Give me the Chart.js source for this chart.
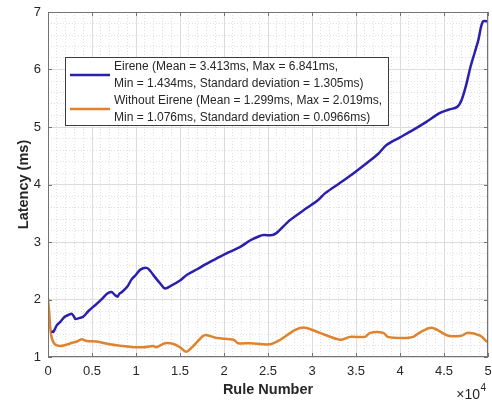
<!DOCTYPE html>
<html lang="en">
<head>
<meta charset="UTF-8">
<title>Latency vs Rule Number</title>
<script src="https://cdn.jsdelivr.net/npm/chart.js@4.4.1/dist/chart.umd.min.js"></script>
<style>
  html, body { margin: 0; padding: 0; background: #fff; }
</style>
</head>
<body>
<canvas id="latChart" width="492" height="402"></canvas>
<script>
    // values (x in rules, y in ms)
    const eireneX = [400, 600, 1000, 1400, 1900, 2300, 2700, 3000, 3100, 3600, 4000, 4600, 5500, 6200, 6700, 7200, 7600, 7900, 8100, 8400,
        9000, 9500, 10000, 10500, 11200, 11600, 12200, 12800, 13300, 14000, 15000, 15800, 17000, 18000, 19500, 20500, 21800, 23000,
        24000, 24500, 25500, 26000, 27500, 29400, 30700, 31500, 33200, 34500, 36200, 37500, 38500, 40000, 41500, 43000, 44500,
        45500, 46500, 47000, 47500, 48000, 48500, 48900, 49400, 50000];
    const eireneY = [1.45, 1.434, 1.55, 1.61, 1.70, 1.73, 1.75, 1.69, 1.66, 1.68, 1.70, 1.80, 1.92, 2.02, 2.10, 2.13, 2.08, 2.05, 2.10, 2.13,
        2.22, 2.35, 2.43, 2.52, 2.55, 2.50, 2.38, 2.27, 2.19, 2.24, 2.33, 2.43, 2.53, 2.62, 2.74, 2.82, 2.91, 3.03,
        3.10, 3.12, 3.12, 3.16, 3.38, 3.59, 3.73, 3.85, 4.03, 4.17, 4.37, 4.53, 4.69, 4.82, 4.95, 5.09, 5.24,
        5.30, 5.35, 5.47, 5.72, 6.04, 6.30, 6.51, 6.83, 6.84];

    const withoutX = [0, 150, 250, 400, 600, 900, 1400, 2000, 2600, 3300, 3800, 4400, 5500, 7000, 8500, 9700, 10800, 12000, 12300,
        13300, 14200, 15000, 15700, 16300, 17000, 17800, 19200, 21100, 21600, 23000, 25200, 26400, 28100, 29200, 30900,
        33200, 34300, 36000, 36600, 38100, 38600, 40300, 41500, 42300, 43600, 45500, 47000, 47700, 49100, 49900];
    const withoutY = [2.02, 1.75, 1.52, 1.35, 1.26, 1.21, 1.19, 1.21, 1.24, 1.27, 1.31, 1.28, 1.27, 1.22, 1.19, 1.17, 1.17, 1.19, 1.17,
        1.24, 1.23, 1.17, 1.09, 1.16, 1.27, 1.38, 1.33, 1.30, 1.24, 1.24, 1.22, 1.30, 1.47, 1.51, 1.42,
        1.30, 1.35, 1.35, 1.42, 1.42, 1.35, 1.33, 1.35, 1.43, 1.51, 1.37, 1.37, 1.42, 1.37, 1.26];

    const labels = [
        'Eirene (Mean = 3.413ms, Max = 6.841ms,\nMin = 1.434ms, Standard deviation = 1.305ms)',
        'Without Eirene (Mean = 1.299ms, Max = 2.019ms,\nMin = 1.076ms, Standard deviation = 0.0966ms)'
    ];
    const colors = ['#2a1fae', '#e0832f'];

    const FONT = "'Liberation Sans', Arial, sans-serif";
    const TEXT = '#262626';

    const toPoints = (xs, ys) => xs.map((x, i) => ({x, y: ys[i]}));
    const isMajorX = v => v % 5000 === 0;
    const isMajorY = v => Math.abs(v - Math.round(v)) < 1e-6;

    // box, inward ticks, legend and the x10^4 exponent
    const matlabLook = {
        id: 'matlabLook',
        afterDatasetsDraw(chart) {
            const {ctx, chartArea: a, scales: {x, y}} = chart;
            ctx.save();
            ctx.strokeStyle = '#737373';
            ctx.lineWidth = 1;
            ctx.strokeRect(a.left + 0.5, a.top + 0.5, a.right - a.left - 1, a.bottom - a.top - 1);
            ctx.beginPath();
            x.ticks.filter(t => isMajorX(t.value)).forEach(t => {
                const px = Math.round(x.getPixelForValue(t.value)) + 0.5;
                ctx.moveTo(px, a.bottom); ctx.lineTo(px, a.bottom - 4);
                ctx.moveTo(px, a.top); ctx.lineTo(px, a.top + 4);
            });
            y.ticks.filter(t => isMajorY(t.value)).forEach(t => {
                const py = Math.round(y.getPixelForValue(t.value)) + 0.5;
                ctx.moveTo(a.left, py); ctx.lineTo(a.left + 4, py);
                ctx.moveTo(a.right, py); ctx.lineTo(a.right - 4, py);
            });
            ctx.stroke();
            ctx.restore();
        },
        afterDraw(chart) {
            const {ctx} = chart;
            ctx.save();
            // legend
            const bx = 65, by = 57, bw = 323, bh = 68, row = 17;
            ctx.fillStyle = '#fff';
            ctx.fillRect(bx, by, bw, bh);
            ctx.strokeStyle = '#3c3c3c';
            ctx.lineWidth = 1;
            ctx.strokeRect(bx + 0.5, by + 0.5, bw, bh);
            ctx.font = '12px ' + FONT;
            ctx.textBaseline = 'middle';
            chart.data.datasets.forEach((ds, i) => {
                const lines = ds.label.split('\n');
                const top = by + 1 + i * 2 * row;
                ctx.strokeStyle = ds.borderColor;
                ctx.lineWidth = 2.5;
                ctx.beginPath();
                ctx.moveTo(bx + 5, top + row);
                ctx.lineTo(bx + 45, top + row);
                ctx.stroke();
                ctx.fillStyle = TEXT;
                lines.forEach((ln, j) => ctx.fillText(ln, bx + 49, top + row / 2 + j * row));
            });
            // exponent label
            ctx.fillStyle = TEXT;
            ctx.textBaseline = 'alphabetic';
            ctx.font = '14px ' + FONT;
            const base = '\u00d710';
            const w = ctx.measureText(base).width;
            const sx = 480 - w;
            ctx.fillText(base, sx, 399);
            ctx.font = '10px ' + FONT;
            ctx.fillText('4', sx + w + 0.5, 391);
            ctx.restore();
        }
    };

    new Chart(document.getElementById('latChart'), {
        type: 'line',
        data: {
            datasets: [
                {label: labels[0], data: toPoints(eireneX, eireneY), borderColor: colors[0]},
                {label: labels[1], data: toPoints(withoutX, withoutY), borderColor: colors[1]}
            ]
        },
        options: {
            responsive: false,
            animation: false,
            events: [],
            parsing: false,
            layout: {padding: {top: 12, right: 4, left: 0, bottom: 0}},
            elements: {
                line: {borderWidth: 2.5, tension: 0.3, fill: false},
                point: {radius: 0}
            },
            plugins: {legend: {display: false}, tooltip: {enabled: false}},
            scales: {
                x: {
                    type: 'linear', min: 0, max: 50000,
                    afterFit: s => { s.height = 45; s.paddingLeft = 0; s.paddingRight = 0; },
                    ticks: {
                        stepSize: 1000, autoSkip: false, maxRotation: 0, padding: 7,
                        color: TEXT, font: {family: FONT, size: 13},
                        callback: v => isMajorX(v) ? String(v / 10000) : ''
                    },
                    grid: {
                        drawTicks: false,
                        color: c => isMajorX(c.tick.value) ? '#dcdcdc' : '#e0e0e0'
                    },
                    border: {display: false, dash: c => (c.tick && isMajorX(c.tick.value)) ? [] : [1, 2]},
                    title: {display: true, text: 'Rule Number', color: TEXT,
                        font: {family: FONT, size: 14.5, weight: 'bold'}, padding: {top: 0, bottom: 3}}
                },
                y: {
                    min: 1, max: 7,
                    afterFit: s => { s.width = 48; s.paddingTop = 0; s.paddingBottom = 0; },
                    ticks: {
                        stepSize: 0.2, autoSkip: false, padding: 7,
                        color: TEXT, font: {family: FONT, size: 13},
                        callback: v => isMajorY(v) ? String(Math.round(v)) : ''
                    },
                    grid: {
                        drawTicks: false,
                        color: c => isMajorY(c.tick.value) ? '#dcdcdc' : '#e0e0e0'
                    },
                    border: {display: false, dash: c => (c.tick && isMajorY(c.tick.value)) ? [] : [1, 2]},
                    title: {display: true, text: 'Latency (ms)', color: TEXT,
                        font: {family: FONT, size: 14.5, weight: 'bold'}, padding: {top: 15, bottom: 0}}
                }
            }
        },
        plugins: [matlabLook]
    });
</script>
</body>
</html>
